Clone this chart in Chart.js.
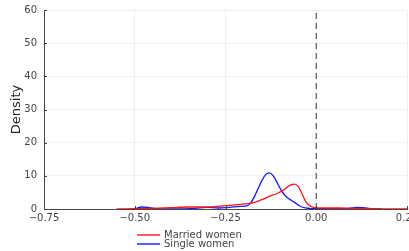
<!DOCTYPE html>
<html lang="en">
<head>
    <meta charset="UTF-8">
    <title>Density</title>
    <script src="https://cdn.jsdelivr.net/npm/chart.js"></script>
    <style>
        body {
            margin: 0;
            font-family: "DejaVu Sans", sans-serif;
            background: white;
        }
        .wrap {
            position: relative;
            width: 409px;
            height: 251px;
        }
        .legend {
            position: absolute;
            left: 137px;
            top: 230px;
            font-size: 10px;
            color: #444;
            line-height: 9px;
        }
        .legend div { white-space: nowrap; }
        .legend span {
            display: inline-block;
            width: 23px;
            height: 1.5px;
            vertical-align: middle;
            margin-right: 4px;
        }
    </style>
</head>
<body>
    <div class="wrap">
        <canvas id="densityChart" width="409" height="251"></canvas>
        <div class="legend" id="legend"></div>
    </div>

    <script>
        // Married women density
        const marriedX = [-0.55, -0.50, -0.45, -0.40, -0.35, -0.30, -0.25, -0.22, -0.19, -0.17, -0.15, -0.13, -0.11, -0.09, -0.08, -0.07, -0.06, -0.05, -0.04, -0.03, -0.02, -0.01, 0.00, 0.03, 0.06, 0.10, 0.15, 0.20, 0.25];
        const marriedY = [0, 0.1, 0.2, 0.4, 0.6, 0.6, 1.0, 1.3, 1.6, 2.0, 2.8, 3.8, 4.6, 5.7, 6.6, 7.3, 7.5, 6.8, 4.8, 2.4, 1.1, 0.6, 0.4, 0.3, 0.3, 0.2, 0.1, 0.05, 0];

        // Single women density
        const singleX = [-0.50, -0.48, -0.46, -0.44, -0.40, -0.35, -0.30, -0.27, -0.24, -0.21, -0.19, -0.18, -0.17, -0.16, -0.15, -0.14, -0.13, -0.12, -0.11, -0.10, -0.09, -0.08, -0.07, -0.06, -0.05, -0.04, -0.02, 0.00, 0.05, 0.09, 0.11, 0.13, 0.15, 0.18];
        const singleY = [0, 0.6, 0.4, 0.1, 0, 0.1, 0.5, 0.3, 0.5, 0.8, 1.0, 1.9, 3.8, 6.2, 8.5, 10.3, 10.9, 10.2, 8.4, 6.3, 4.6, 3.5, 2.7, 2.0, 1.2, 0.6, 0.2, 0.1, 0.1, 0.2, 0.5, 0.4, 0.1, 0];

        // reference line at zero
        const vlineX = [0, 0];
        const vlineY = [0, 60];

        const xTicks = [-0.75, -0.5, -0.25, 0, 0.25];

        const toPoints = (xs, ys) => xs.map((x, i) => ({ x: x, y: ys[i] }));
        const fmt = v => v.toFixed(2).replace('-', '\u2212');

        // small tick marks pointing into the plot
        const innerTicks = {
            id: 'innerTicks',
            afterDraw(chart) {
                const ctx = chart.ctx;
                const a = chart.chartArea;
                const xs = chart.scales.x, ys = chart.scales.y;
                ctx.save();
                ctx.strokeStyle = '#444';
                ctx.lineWidth = 1;
                ctx.beginPath();
                xTicks.forEach(v => {
                    const px = Math.round(xs.getPixelForValue(v)) + 0.5;
                    ctx.moveTo(px, a.bottom);
                    ctx.lineTo(px, a.bottom - 3);
                });
                for (let v = 0; v <= 60; v += 10) {
                    const py = Math.round(ys.getPixelForValue(v)) + 0.5;
                    ctx.moveTo(a.left, py);
                    ctx.lineTo(a.left + 3, py);
                }
                ctx.stroke();
                ctx.restore();
            }
        };

        const chart = new Chart(document.getElementById('densityChart'), {
            type: 'line',
            data: {
                datasets: [
                    {
                        label: 'Married women',
                        data: toPoints(marriedX, marriedY),
                        borderColor: 'rgb(255, 20, 20)',
                        borderWidth: 1.3,
                        pointRadius: 0,
                        cubicInterpolationMode: 'monotone'
                    },
                    {
                        label: 'Single women',
                        data: toPoints(singleX, singleY),
                        borderColor: 'rgb(20, 20, 255)',
                        borderWidth: 1.3,
                        pointRadius: 0,
                        cubicInterpolationMode: 'monotone'
                    },
                    {
                        label: 'zero',
                        data: toPoints(vlineX, vlineY),
                        borderColor: '#555',
                        borderWidth: 1.2,
                        borderDash: [6, 4],
                        pointRadius: 0
                    }
                ]
            },
            options: {
                responsive: false,
                animation: false,
                layout: { padding: { top: 10, right: 2, bottom: 0, left: 0 } },
                plugins: {
                    legend: { display: false },
                    tooltip: { enabled: false }
                },
                scales: {
                    x: {
                        type: 'linear',
                        min: -0.75,
                        max: 0.25,
                        afterBuildTicks: s => { s.ticks = xTicks.map(v => ({ value: v })); },
                        afterFit: s => { s.height = 42; s.paddingLeft = 0; s.paddingRight = 0; },
                        ticks: {
                            callback: v => fmt(v),
                            color: '#444',
                            font: { family: 'DejaVu Sans', size: 10 },
                            padding: 3,
                            maxRotation: 0
                        },
                        grid: { color: 'rgba(0,0,0,0.06)', tickLength: 0 },
                        border: { color: '#444', width: 1 }
                    },
                    y: {
                        min: 0,
                        max: 60,
                        afterFit: s => { s.width = 44; s.paddingTop = 0; s.paddingBottom = 0; },
                        ticks: {
                            stepSize: 10,
                            color: '#444',
                            font: { family: 'DejaVu Sans', size: 10 },
                            padding: 7
                        },
                        title: {
                            display: true,
                            text: 'Density',
                            color: '#222',
                            font: { family: 'DejaVu Sans', size: 13 },
                            padding: { top: 9, bottom: 2 }
                        },
                        grid: { color: 'rgba(0,0,0,0.06)', tickLength: 0 },
                        border: { color: '#444', width: 1 }
                    }
                }
            },
            plugins: [innerTicks]
        });

        // legend below the plot
        const legend = document.getElementById('legend');
        chart.data.datasets.slice(0, 2).forEach(ds => {
            const row = document.createElement('div');
            row.innerHTML = `<span style="background:${ds.borderColor};opacity:0.7"></span>${ds.label}`;
            legend.appendChild(row);
        });
    </script>
</body>
</html>
